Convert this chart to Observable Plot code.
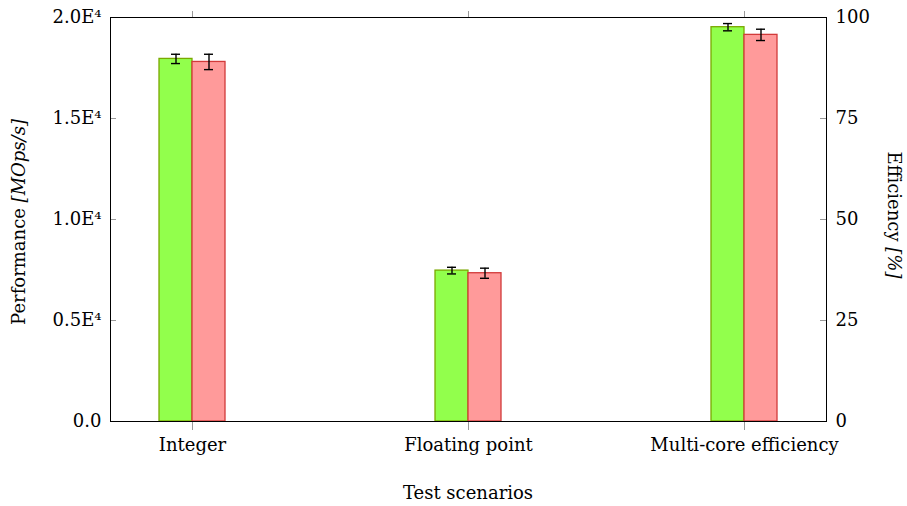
<!DOCTYPE html>
<html>
<head>
<meta charset="utf-8">
<script src="https://cdn.jsdelivr.net/npm/d3@7"></script>
<script src="https://cdn.jsdelivr.net/npm/@observablehq/plot@0.6"></script>
<style>
  html, body { margin: 0; padding: 0; background: #fff; }
  #chart { width: 907px; height: 506px; }
</style>
</head>
<body>
<div id="chart"></div>
<script>
// ---- data ----
const categories = ["Integer", "Floating point", "Multi-core efficiency"];
const units = ["MOps/s", "MOps/s", "%"];
const seriesNames = ["A", "B"];
const greenValues = [17950, 7470, 97.6];
const greenErrors = [230, 165, 0.9];
const redValues = [17800, 7340, 95.7];
const redErrors = [380, 250, 1.4];
const leftTicks = [0, 5000, 10000, 15000, 20000];
const leftTickLabels = ["0.0", "0.5E⁴", "1.0E⁴", "1.5E⁴", "2.0E⁴"];
const rightTickLabels = ["0", "25", "50", "75", "100"];
const pctScale = 20000 / 100; // right axis (0–100 %) shares the left axis range

function rows(values, errors, series) {
  return categories.map((c, i) => {
    const k = units[i] === "%" ? pctScale : 1;
    return { category: c, series, value: values[i] * k, err: errors[i] * k };
  });
}
const green = rows(greenValues, greenErrors, seriesNames[0]);
const red = rows(redValues, redErrors, seriesNames[1]);

const W = 907, H = 506;
const mTop = 17, mRight = 81, mBottom = 85, mLeft = 110;
const half = 33;
const FONT = "DejaVu Serif";

const plot = Plot.plot({
  width: W, height: H,
  marginTop: mTop, marginRight: mRight, marginBottom: mBottom, marginLeft: mLeft,
  style: { fontFamily: FONT, fontSize: "18px", color: "black", background: "white" },
  x: { type: "band", domain: categories, paddingInner: 0.76, paddingOuter: 0.177, axis: null },
  y: { domain: [0, 20000], axis: null },
  marks: [
    Plot.barY(green, { x: "category", y: "value", fill: "#92ff4c", stroke: "#7aa800", strokeWidth: 1.3, insetRight: half }),
    Plot.barY(red, { x: "category", y: "value", fill: "#ff9a9a", stroke: "#d23a3a", strokeWidth: 1.3, insetLeft: half }),
    Plot.ruleX(green, { x: "category", y1: d => d.value - d.err, y2: d => d.value + d.err, dx: -16.5, stroke: "black", strokeWidth: 1.4 }),
    Plot.ruleX(red, { x: "category", y1: d => d.value - d.err, y2: d => d.value + d.err, dx: 16.5, stroke: "black", strokeWidth: 1.4 }),
    Plot.tickY(green, { x: "category", y: d => d.value + d.err, insetLeft: 12, insetRight: 45, stroke: "black", strokeWidth: 1.4 }),
    Plot.tickY(green, { x: "category", y: d => d.value - d.err, insetLeft: 12, insetRight: 45, stroke: "black", strokeWidth: 1.4 }),
    Plot.tickY(red, { x: "category", y: d => d.value + d.err, insetLeft: 45, insetRight: 12, stroke: "black", strokeWidth: 1.4 }),
    Plot.tickY(red, { x: "category", y: d => d.value - d.err, insetLeft: 45, insetRight: 12, stroke: "black", strokeWidth: 1.4 }),
    // inward y ticks
    Plot.tickY(leftTicks, { y: d => d, insetRight: 710, stroke: "#999" }),
    Plot.tickY(leftTicks, { y: d => d, insetLeft: 710, stroke: "#999" }),
    Plot.axisY({ anchor: "left", ticks: leftTicks, tickFormat: d => leftTickLabels[leftTicks.indexOf(d)], tickSize: 0, tickPadding: 9, label: null }),
    Plot.axisY({ anchor: "right", ticks: leftTicks, tickFormat: d => rightTickLabels[leftTicks.indexOf(d)], tickSize: 0, tickPadding: 9, label: null }),
    Plot.axisX({ anchor: "bottom", tickSize: 9, tickPadding: 8, stroke: "#999", label: null }),
    Plot.axisX({ anchor: "top", tickSize: 7, tickFormat: () => "", stroke: "#999", label: null }),
    Plot.frame({ stroke: "black", strokeWidth: 1 })
  ]
});

document.getElementById("chart").appendChild(plot);

// axis titles (with italic unit parts)
const svg = d3.select(plot);
const cy = (mTop + (H - mBottom)) / 2;
const cx = (mLeft + (W - mRight)) / 2;

const ly = svg.append("text")
  .attr("transform", `translate(20,${cy + 3}) rotate(-90)`)
  .attr("text-anchor", "middle").attr("dominant-baseline", "middle")
  .attr("font-family", FONT).attr("font-size", 18).attr("fill", "black");
ly.append("tspan").text("Performance ");
ly.append("tspan").attr("font-style", "italic").text("[MOps/s]");

const ry = svg.append("text")
  .attr("transform", `translate(893,${cy - 4}) rotate(90)`)
  .attr("text-anchor", "middle").attr("dominant-baseline", "middle")
  .attr("font-family", FONT).attr("font-size", 18).attr("fill", "black");
ry.append("tspan").text("Efficiency ");
ry.append("tspan").attr("font-style", "italic").text("[%]");

svg.append("text")
  .attr("x", cx).attr("y", 494)
  .attr("text-anchor", "middle").attr("dominant-baseline", "middle")
  .attr("font-family", FONT).attr("font-size", 18).attr("fill", "black")
  .text("Test scenarios");
</script>
</body>
</html>
